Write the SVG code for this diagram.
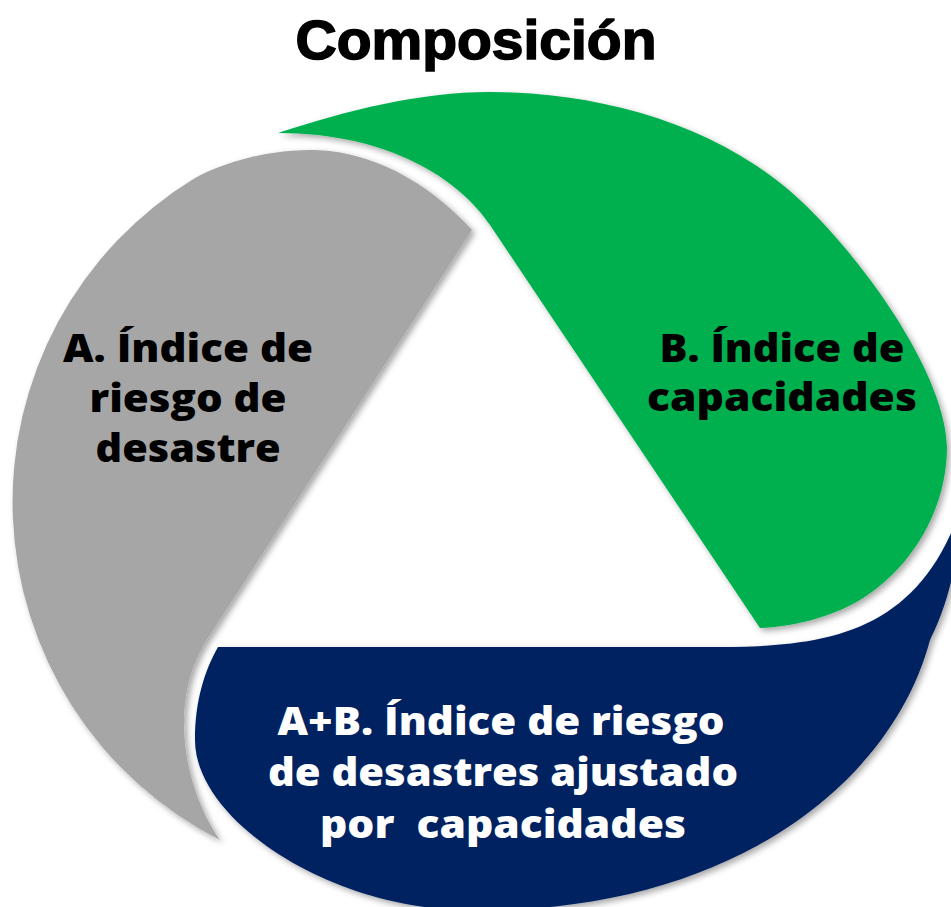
<svg xmlns="http://www.w3.org/2000/svg" width="951" height="907" viewBox="0 0 951 907">
  <defs>
    <filter id="sh" x="-10%" y="-10%" width="120%" height="120%">
      <feDropShadow dx="3" dy="3" stdDeviation="3" flood-color="#000" flood-opacity="0.35"/>
    </filter>
  </defs>
  <style>
    .lbl { font-family: "Open Sans", "DejaVu Sans", sans-serif; font-weight: 800; font-size: 38px; text-anchor: middle; }
    .dark { fill: #000000; }
    .light { fill: #FFFFFF; }
    .title { font-family: "Liberation Sans", Arial, sans-serif; font-weight: 700; font-size: 56px; text-anchor: middle; fill: #000000; stroke: #000000; stroke-width: 1.6px; }
  </style>
  <rect width="951" height="907" fill="#FFFFFF"/>

  <g id="title">
    <text class="title" x="476" y="59" textLength="361" lengthAdjust="spacingAndGlyphs">Composición</text>
  </g>

  <g id="node-a">
    <path filter="url(#sh)" fill="#A6A6A6" d="M 472,230 C 440,195 385,152 315,150 C 270,149 225,162 195,178 A 379 379 0 0 0 220,840 C 185,790 165,700 210,635 Z"/>
    <text class="lbl dark" x="188" y="362" textLength="250" lengthAdjust="spacingAndGlyphs">A. Índice de</text>
    <text class="lbl dark" x="188" y="412" textLength="197" lengthAdjust="spacingAndGlyphs">riesgo de</text>
    <text class="lbl dark" x="188" y="462" textLength="185" lengthAdjust="spacingAndGlyphs">desastre</text>
  </g>

  <g id="node-b">
    <path filter="url(#sh)" fill="#00B050" d="M 278,133 C 348,110 420,92 490,92 C 600,92 720,125 800,200 C 858,254 945,370 947,447 C 947,510 911,569 860,600 C 830,618 790,627 760,628 L 490,225 C 460,180 390,133 278,133 Z"/>
    <text class="lbl dark" x="782" y="362" textLength="245" lengthAdjust="spacingAndGlyphs">B. Índice de</text>
    <text class="lbl dark" x="782" y="411" textLength="270" lengthAdjust="spacingAndGlyphs">capacidades</text>
  </g>

  <g id="node-ab">
    <path filter="url(#sh)" fill="#002060" d="M 218,647 L 720,647 C 830,647 920,632 962,505 C 958,570 945,610 930,640 C 890,790 720,915 470,910 C 330,910 195,820 195,740 C 195,700 205,670 218,647 Z"/>
    <text class="lbl light" x="501" y="735" textLength="447" lengthAdjust="spacingAndGlyphs">A+B. Índice de riesgo</text>
    <text class="lbl light" x="503" y="786" textLength="470" lengthAdjust="spacingAndGlyphs">de desastres ajustado</text>
    <text class="lbl light" x="503" y="838" textLength="366" lengthAdjust="spacingAndGlyphs" xml:space="preserve">por  capacidades</text>
  </g>

  <g id="connectors"/>
</svg>
